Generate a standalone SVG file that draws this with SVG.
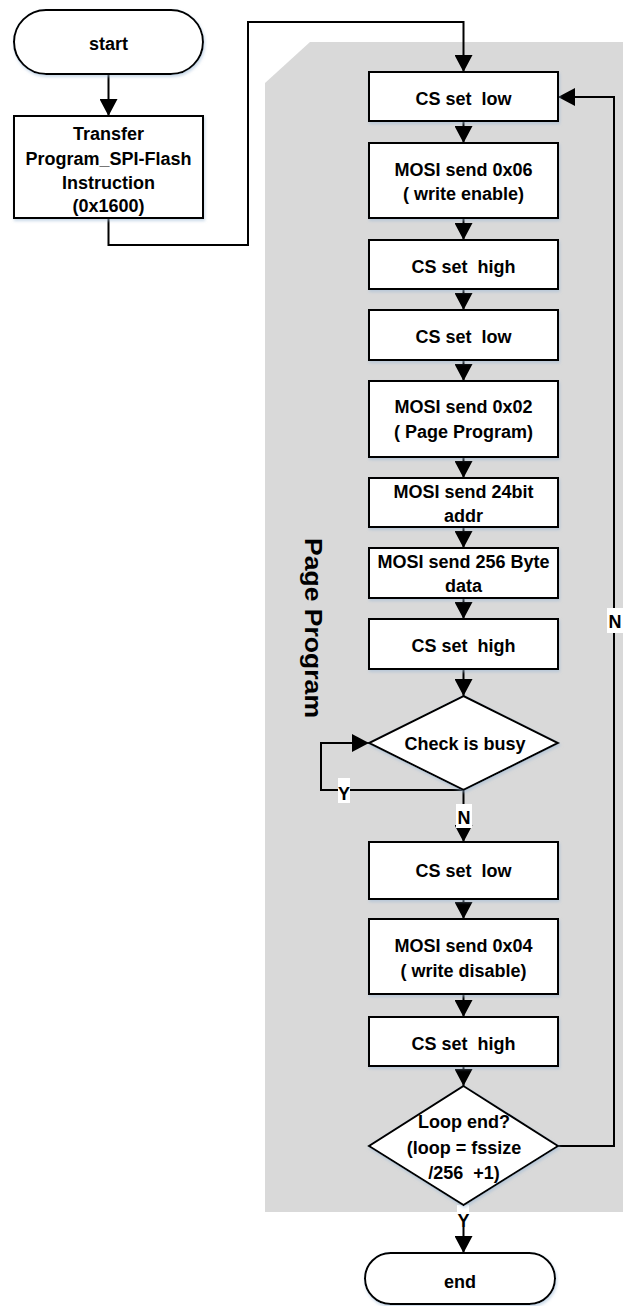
<svg xmlns="http://www.w3.org/2000/svg" width="623" height="1306" viewBox="0 0 623 1306">
<defs>
<marker id="arr" viewBox="0 0 17 18" refX="17" refY="9" markerWidth="17" markerHeight="18" markerUnits="userSpaceOnUse" orient="auto">
<path d="M0,0 L17,9 L0,18 z" fill="#000"/>
</marker>
<filter id="sh" x="-10%" y="-10%" width="120%" height="130%">
<feDropShadow dx="1" dy="2" stdDeviation="1.5" flood-color="#9db9d6" flood-opacity="0.55"/>
</filter>
</defs>
<style>
.shape{fill:#fff;stroke:#000;stroke-width:2;filter:url(#sh)}
.t{font-family:"Liberation Sans",Arial,sans-serif;font-weight:bold;font-size:18px;fill:#000;text-anchor:middle;white-space:pre}
.conn{fill:none;stroke:#000;stroke-width:2}
.lbl{fill:#fff}
</style>
<rect width="623" height="1306" fill="#fff"/>
<g id="panel">
<polygon points="310,42 623,42 623,1212 265,1212 265,83" fill="#d9d9d9"/>
<text class="t" transform="translate(304.5,628) rotate(90)" x="0" y="0" style="font-size:24px" textLength="180" lengthAdjust="spacingAndGlyphs">Page Program</text>
</g>
<g id="connectors">
<line class="conn" x1="108.5" y1="74" x2="108.5" y2="116" marker-end="url(#arr)"/>
<path class="conn" d="M108.5,218 V245 H248 V22 H463.5 V72" marker-end="url(#arr)"/>
<line class="conn" x1="463.5" y1="121" x2="463.5" y2="143" marker-end="url(#arr)"/>
<line class="conn" x1="463.5" y1="218" x2="463.5" y2="240" marker-end="url(#arr)"/>
<line class="conn" x1="463.5" y1="289" x2="463.5" y2="310" marker-end="url(#arr)"/>
<line class="conn" x1="463.5" y1="360" x2="463.5" y2="381" marker-end="url(#arr)"/>
<line class="conn" x1="463.5" y1="457" x2="463.5" y2="478" marker-end="url(#arr)"/>
<line class="conn" x1="463.5" y1="527" x2="463.5" y2="548" marker-end="url(#arr)"/>
<line class="conn" x1="463.5" y1="598" x2="463.5" y2="619" marker-end="url(#arr)"/>
<line class="conn" x1="463.5" y1="669" x2="463.5" y2="696" marker-end="url(#arr)"/>
<path class="conn" d="M463.5,790 H321 V743 H369" marker-end="url(#arr)"/>
<line class="conn" x1="463.5" y1="790" x2="463.5" y2="842" marker-end="url(#arr)"/>
<line class="conn" x1="463.5" y1="899" x2="463.5" y2="919" marker-end="url(#arr)"/>
<line class="conn" x1="463.5" y1="994" x2="463.5" y2="1017" marker-end="url(#arr)"/>
<line class="conn" x1="463.5" y1="1066" x2="463.5" y2="1086" marker-end="url(#arr)"/>
<path class="conn" d="M558,1146 H614 V97 H558" marker-end="url(#arr)"/>
<line class="conn" x1="463.5" y1="1205" x2="463.5" y2="1253" marker-end="url(#arr)"/>
<rect class="lbl" x="338" y="778" width="12" height="25"/>
<text class="t" x="344" y="800">Y</text>
<rect class="lbl" x="456" y="804" width="16" height="24"/>
<text class="t" x="464" y="824">N</text>
<rect class="lbl" x="607" y="608" width="16" height="25"/>
<text class="t" x="615" y="628">N</text>
<rect class="lbl" x="457" y="1205" width="12" height="22"/>
<text class="t" x="463.5" y="1227">Y</text>
</g>
<g id="start">
<rect class="shape" x="14" y="10" width="189" height="64" rx="32" ry="32"/>
<text class="t" x="108.5" y="50">start</text>
</g>
<g id="transfer">
<rect class="shape" x="14" y="116" width="189" height="102"/>
<text class="t" x="108.5" y="140">Transfer</text>
<text class="t" x="108.5" y="165">Program_SPI-Flash</text>
<text class="t" x="108.5" y="189">Instruction</text>
<text class="t" x="108.5" y="212">(0x1600)</text>
</g>
<g id="cs_low_1">
<rect class="shape" x="369" y="72" width="189" height="49"/>
<text class="t" x="463.5" y="104.5">CS set  low</text>
</g>
<g id="write_enable">
<rect class="shape" x="369" y="143" width="189" height="75"/>
<text class="t" x="463.5" y="175.5">MOSI send 0x06</text>
<text class="t" x="463.5" y="200">( write enable)</text>
</g>
<g id="cs_high_1">
<rect class="shape" x="369" y="240" width="189" height="49"/>
<text class="t" x="463.5" y="272.5">CS set  high</text>
</g>
<g id="cs_low_2">
<rect class="shape" x="369" y="310" width="189" height="50"/>
<text class="t" x="463.5" y="343">CS set  low</text>
</g>
<g id="page_program">
<rect class="shape" x="369" y="381" width="189" height="76"/>
<text class="t" x="463.5" y="413">MOSI send 0x02</text>
<text class="t" x="463.5" y="438">( Page Program)</text>
</g>
<g id="addr">
<rect class="shape" x="369" y="478" width="189" height="49"/>
<text class="t" x="463.5" y="498">MOSI send 24bit</text>
<text class="t" x="463.5" y="522">addr</text>
</g>
<g id="data">
<rect class="shape" x="369" y="548" width="189" height="50"/>
<text class="t" x="463.5" y="568">MOSI send 256 Byte</text>
<text class="t" x="463.5" y="592">data</text>
</g>
<g id="cs_high_2">
<rect class="shape" x="369" y="619" width="189" height="50"/>
<text class="t" x="463.5" y="652">CS set  high</text>
</g>
<g id="check_busy">
<polygon class="shape" points="463.5,696 558,743 463.5,790 369,743"/>
<text class="t" x="465" y="750">Check is busy</text>
</g>
<g id="cs_low_3">
<rect class="shape" x="369" y="842" width="189" height="57"/>
<text class="t" x="463.5" y="877">CS set  low</text>
</g>
<g id="write_disable">
<rect class="shape" x="369" y="919" width="189" height="75"/>
<text class="t" x="463.5" y="951.5">MOSI send 0x04</text>
<text class="t" x="463.5" y="976.5">( write disable)</text>
</g>
<g id="cs_high_3">
<rect class="shape" x="369" y="1017" width="189" height="49"/>
<text class="t" x="463.5" y="1049.5">CS set  high</text>
</g>
<g id="loop_end">
<polygon class="shape" points="463.5,1086 558,1146 463.5,1205 369,1146"/>
<text class="t" x="464" y="1128">Loop end?</text>
<text class="t" x="464" y="1154">(loop = fssize</text>
<text class="t" x="464" y="1179">/256  +1)</text>
</g>
<g id="end">
<rect class="shape" x="365" y="1253" width="190" height="51" rx="25.5" ry="25.5"/>
<text class="t" x="460" y="1288">end</text>
</g>
</svg>
